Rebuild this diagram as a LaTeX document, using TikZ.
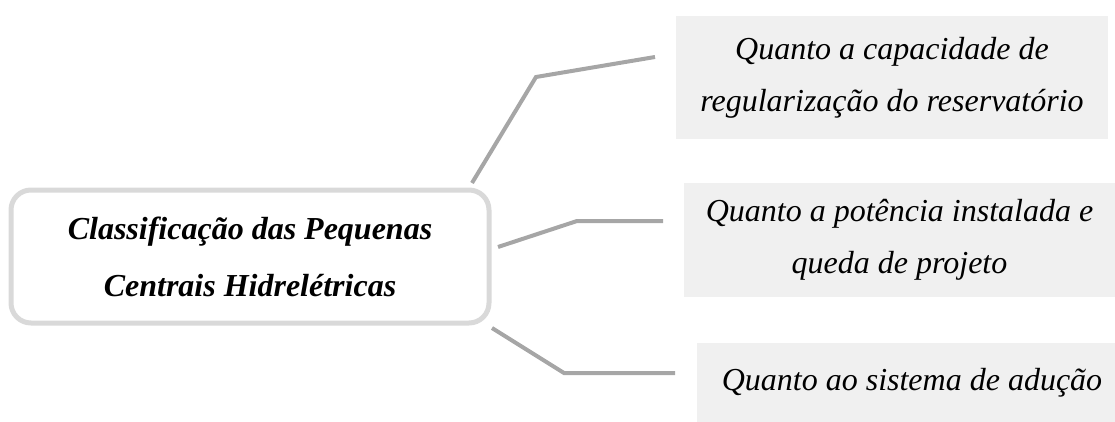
\documentclass[tikz,border=0pt]{standalone}
\usepackage{fontspec}
\setmainfont{Liberation Serif}
\definecolor{boxgray}{HTML}{F0F0F0}
\definecolor{rimgray}{HTML}{D9D9D9}
\definecolor{linkgray}{HTML}{A6A6A6}
\begin{document}
\begin{tikzpicture}[x=1pt,y=-1pt]
        \useasboundingbox (0,0) rectangle (1115,422);
        \node[draw=rimgray,line width=5pt,rounded corners=20pt,minimum width=478pt,minimum height=133pt,
              align=center,font=\bfseries\itshape\fontsize{32}{57}\selectfont] (0) at (250,256.5)
            {Classificação das Pequenas\\Centrais Hidrelétricas};
        \begin{scope}[every node/.style={fill=boxgray,inner sep=0pt,align=center,
                      font=\itshape\fontsize{32}{52}\selectfont}]
            \node[minimum width=432pt,minimum height=123pt] (1) at (892,77.5)
                {Quanto a capacidade de\\regularização do reservatório};
            \node[minimum width=431pt,minimum height=114pt] (2) at (899.5,240)
                {Quanto a potência instalada e\\queda de projeto};
            \node[minimum width=418pt,minimum height=79pt] (3) at (906,382.5)
                {\hspace{12pt}Quanto ao sistema de adução};
        \end{scope}
        \coordinate (1a) at (472,183);
        \coordinate (1b) at (536,77);
        \coordinate (1c) at (655,57);
        \coordinate (2a) at (498,247);
        \coordinate (2b) at (577,221);
        \coordinate (2c) at (663,221);
        \coordinate (3a) at (492,328);
        \coordinate (3b) at (564,373);
        \coordinate (3c) at (675,373);
        \begin{scope}[every path/.style={draw=linkgray,line width=4pt}]
            \path (1a) -- (1b) -- (1c);
            \path (2a) -- (2b) -- (2c);
            \path (3a) -- (3b) -- (3c);
        \end{scope}
    \end{tikzpicture}
\end{document}
